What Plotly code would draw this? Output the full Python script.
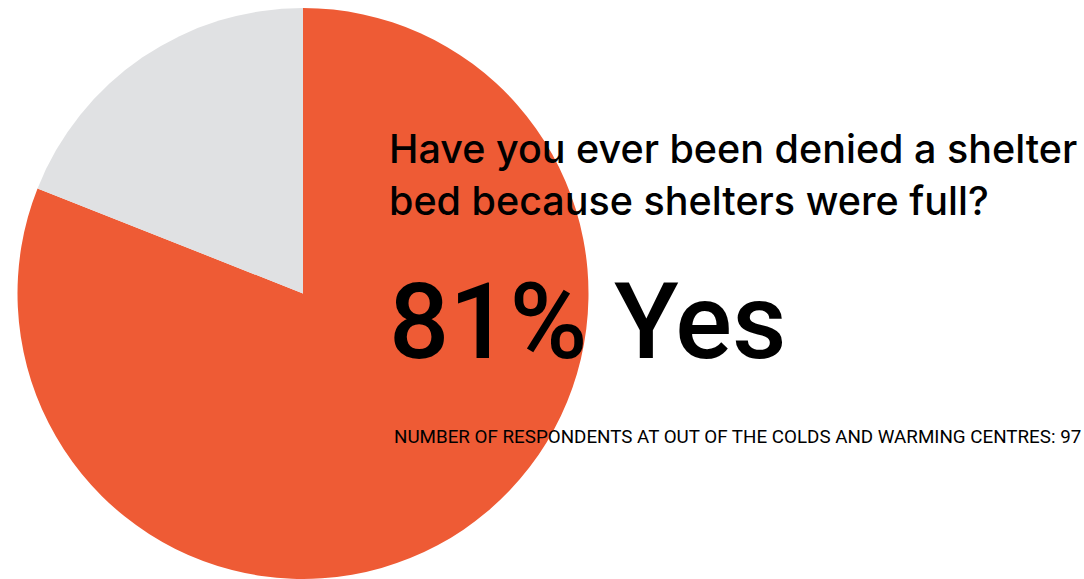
import plotly.graph_objects as go

labels = ["Yes", "No"]
values = [81, 19]
colors = ["#EE5B35", "#E0E1E3"]

question_lines = ["Have you ever been denied a shelter", "bed because shelters were full?"]
headline = "81% Yes"
footnote = "NUMBER OF RESPONDENTS AT OUT OF THE COLDS AND WARMING CENTRES: 97"

W, H = 1084, 579

fig = go.Figure(go.Pie(
    labels=labels, values=values, sort=False, direction="clockwise", rotation=0,
    marker=dict(colors=colors, line=dict(width=0)),
    textinfo="none", hoverinfo="label+percent", showlegend=False,
    domain=dict(x=[(303 - 288) / W, (303 + 288) / W], y=[0, 1]),
))

def ann(text, xpx, ypx, size, family, weight="normal"):
    return dict(text=text, x=xpx / W, y=1 - ypx / H, xref="paper", yref="paper",
                xanchor="left", yanchor="middle", showarrow=False,
                font=dict(size=size, family=family, color="#000000", weight=weight))

fig.update_layout(
    width=W, height=H, margin=dict(l=0, r=0, t=8, b=0),
    paper_bgcolor="white", plot_bgcolor="white",
    annotations=[
        ann(question_lines[0], 387, 143, 39.5, "Inter", 500),
        ann(question_lines[1], 387, 196, 39.5, "Inter", 500),
        ann(headline, 387, 318, 106, "Roboto", 500),
        ann(footnote, 392, 435, 18.8, "Roboto"),
    ],
)
fig.write_html("out.html")
